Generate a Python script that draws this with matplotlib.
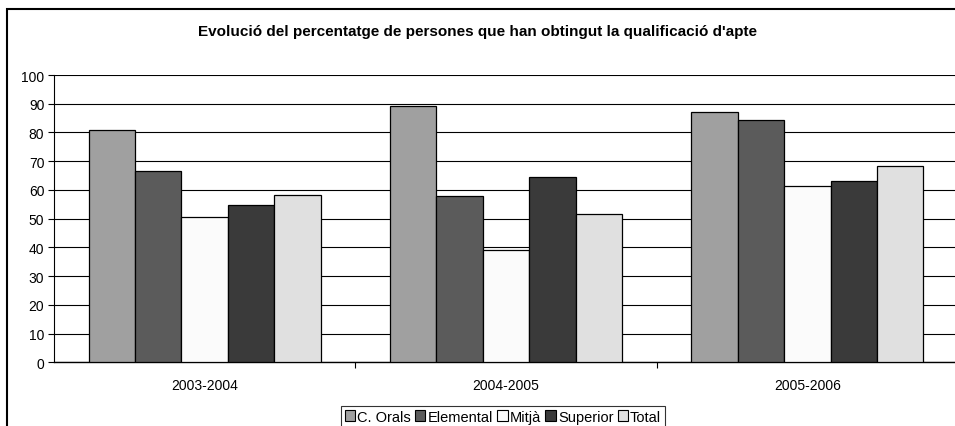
import matplotlib.pyplot as plt
from matplotlib.patches import Rectangle, Patch
import numpy as np

# --- Data ---
years = ['2003-2004', '2004-2005', '2005-2006']
series_names = ['C. Orals', 'Elemental', 'Mitjà', 'Superior', 'Total']
c_orals = [81.0, 89.2, 87.1]
elemental = [66.5, 58.0, 84.5]
mitja = [50.7, 39.0, 61.2]
superior = [54.8, 64.4, 63.2]
total = [58.4, 51.5, 68.2]

colors = ['#a0a0a0', '#5b5b5b', '#fbfbfb', '#3a3a3a', '#e0e0e0']

plt.rcParams.update({
    'font.family': ['Liberation Sans', 'DejaVu Sans'],
    'font.size': 10,
})

fig = plt.figure(figsize=(9.55, 4.27), dpi=100)

# outer chart frame (cropped on right and bottom in the reference)
fig.patches.append(Rectangle((7 / 955, -0.1), 1.2, 1.1 - 10 / 427,
                             transform=fig.transFigure, fill=False,
                             edgecolor='black', linewidth=1.5))

ax = fig.add_axes([54 / 955, 1 - 363.3 / 427, (958 - 54) / 955, (363.3 - 76) / 427])

values = [c_orals, elemental, mitja, superior, total]
x = np.arange(len(years))
bar_w = 0.154
for i, (vals, col, name) in enumerate(zip(values, colors, series_names)):
    ax.bar(x + (i - 2) * bar_w, vals, width=bar_w, color=col,
           edgecolor='black', linewidth=0.9, label=name, zorder=3)

ax.set_xlim(-0.5, 2.5)
ax.set_ylim(0, 100)
ax.set_yticks(range(0, 101, 10))
ax.yaxis.grid(True, color='black', linewidth=0.8, zorder=0)
ax.set_axisbelow(True)

ax.set_xticks(x)
ax.set_xticklabels(years, fontsize=10)
ax.set_xticks([0.5, 1.5], minor=True)
ax.tick_params(axis='x', which='major', length=0, pad=11)
ax.tick_params(axis='x', which='minor', length=4, direction='out', width=0.8)
ax.tick_params(axis='y', length=4, direction='out', width=0.8, pad=3, labelsize=10)

for side in ['top', 'right']:
    ax.spines[side].set_visible(False)
ax.spines['left'].set_linewidth(0.8)
ax.spines['bottom'].set_linewidth(1.0)

fig.text(0.5, 1 - 32 / 427, "Evolució del percentatge de persones que han obtingut la qualificació d'apte",
         ha='center', va='center', fontsize=11, fontweight='bold')

handles = [Patch(facecolor=c, edgecolor='black', linewidth=0.8) for c in colors]
leg = fig.legend(handles, series_names, loc='upper center',
                 bbox_to_anchor=(503 / 955, 1 - 407 / 427), ncol=5,
                 frameon=True, fancybox=False, handlelength=0.7, handleheight=0.7,
                 handletextpad=0.15, columnspacing=0.3, borderpad=0.25,
                 borderaxespad=0, fontsize=10.5)
leg.get_frame().set_edgecolor('black')
leg.get_frame().set_linewidth(0.8)

plt.savefig('out.png', dpi=100)
